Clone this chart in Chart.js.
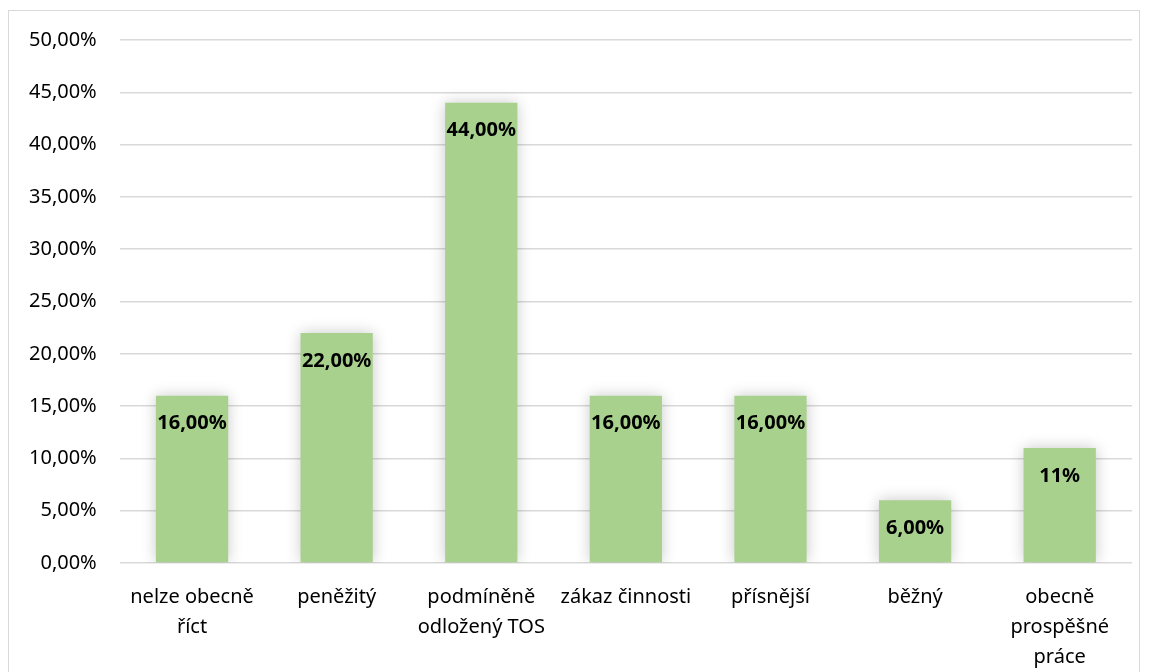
<!DOCTYPE html>
<html>
<head>
<meta charset="utf-8">
<script src="https://cdn.jsdelivr.net/npm/chart.js@4.4.1/dist/chart.umd.min.js"></script>
<style>
  html, body { margin: 0; padding: 0; background: #fff; overflow: hidden; }
  #frame {
    position: absolute; left: 8px; top: 10px;
    width: 1132px; height: 700px;
    border: 1px solid #d9d9d9; box-sizing: border-box;
  }
  #wrap { position: absolute; left: -3px; top: -6px; width: 1133px; height: 678px; }
</style>
</head>
<body>
<div id="frame"><div id="wrap"><canvas id="chart"></canvas></div></div>
<script>
// categories (multi-line labels as in the original)
const categories = [
  ['nelze obecně', 'říct'],
  'peněžitý',
  ['podmíněně', 'odložený TOS'],
  'zákaz činnosti',
  'přísnější',
  'běžný',
  ['obecně', 'prospěšné', 'práce']
];
const values = [16, 22, 44, 16, 16, 6, 11];
const valueLabels = ['16,00%', '22,00%', '44,00%', '16,00%', '16,00%', '6,00%', '11%'];

const BAR_COLOR = '#a9d18e';
const FONT = '"Noto Sans", "Open Sans", sans-serif';

// soft shadow behind the bars
const barShadow = {
  id: 'barShadow',
  beforeDatasetDraw(chart) {
    const ctx = chart.ctx;
    ctx.save();
    ctx.shadowColor = 'rgba(0,0,0,0.22)';
    ctx.shadowBlur = 14;
    ctx.shadowOffsetX = 0;
    ctx.shadowOffsetY = 0;
  },
  afterDatasetDraw(chart) {
    chart.ctx.restore();
  }
};

// value labels inside near the top of each bar
const valueLabelPlugin = {
  id: 'valueLabels',
  afterDatasetsDraw(chart) {
    const ctx = chart.ctx;
    const meta = chart.getDatasetMeta(0);
    ctx.save();
    ctx.font = 'bold 20px ' + FONT;
    ctx.fillStyle = '#000';
    ctx.textAlign = 'center';
    ctx.textBaseline = 'middle';
    meta.data.forEach((bar, i) => {
      ctx.fillText(valueLabels[i], bar.x, bar.y + 28);
    });
    ctx.restore();
  }
};

new Chart(document.getElementById('chart'), {
  type: 'bar',
  data: {
    labels: categories,
    datasets: [{
      data: values,
      backgroundColor: BAR_COLOR,
      borderWidth: 0,
      categoryPercentage: 1,
      barPercentage: 0.5
    }]
  },
  options: {
    responsive: true,
    maintainAspectRatio: false,
    animation: false,
    layout: { padding: { left: 0, right: 7, top: 4, bottom: 0 } },
    plugins: {
      legend: { display: false },
      tooltip: { enabled: false }
    },
    scales: {
      x: {
        grid: { display: false },
        border: { display: false },
        ticks: {
          color: '#000',
          font: { family: FONT, size: 20, lineHeight: 1.5 },
          padding: 11,
          maxRotation: 0,
          autoSkip: false
        }
      },
      y: {
        min: 0,
        max: 50,
        grid: { color: '#d9d9d9', lineWidth: 1.5, drawTicks: false },
        border: { display: false },
        ticks: {
          stepSize: 5,
          color: '#000',
          padding: 23,
          font: { family: FONT, size: 20 },
          callback: v => v.toFixed(2).replace('.', ',') + '%'
        }
      }
    }
  },
  plugins: [barShadow, valueLabelPlugin]
});
</script>
</body>
</html>
